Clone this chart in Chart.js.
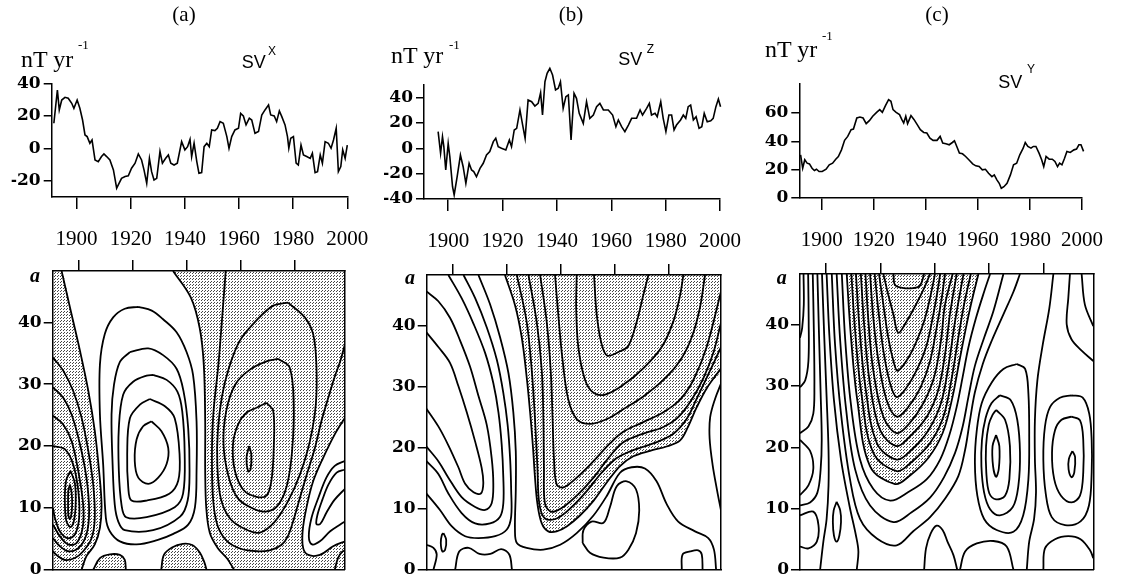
<!DOCTYPE html>
<html><head><meta charset="utf-8">
<script src="https://cdn.jsdelivr.net/npm/chart.js@4.4.1/dist/chart.umd.min.js"></script>
<style>
html,body{margin:0;padding:0;background:#fff;}
#stage{position:relative;width:1121px;height:582px;overflow:hidden;background:#fff;}
#stage canvas{position:absolute;left:0;top:0;}
.t{position:absolute;white-space:nowrap;line-height:1;color:#000;z-index:5;}
.serif{font-family:'Liberation Serif','Times New Roman',serif;}
.sans{font-family:'Liberation Sans',Arial,sans-serif;}
</style></head><body>
<div id="stage">
 <div class="t serif" style="left:134px;top:4px;width:100px;text-align:center;font-size:21px">(a)</div>
 <div class="t serif" style="left:521px;top:4px;width:100px;text-align:center;font-size:21px">(b)</div>
 <div class="t serif" style="left:887px;top:4px;width:100px;text-align:center;font-size:21px">(c)</div>
 <div class="t serif" style="left:21px;top:46.6px;font-size:24px">nT yr</div>
 <div class="t serif" style="left:78px;top:37.7px;font-size:13px">-1</div>
 <div class="t serif" style="left:391px;top:43.2px;font-size:24px">nT yr</div>
 <div class="t serif" style="left:449px;top:37.7px;font-size:13px">-1</div>
 <div class="t serif" style="left:765px;top:36.6px;font-size:24px">nT yr</div>
 <div class="t serif" style="left:822px;top:29.4px;font-size:13px">-1</div>
 <div class="t sans" style="left:241.7px;top:53.4px;font-size:18px">SV</div>
 <div class="t sans" style="left:268px;top:45px;font-size:12px">X</div>
 <div class="t sans" style="left:618.3px;top:50px;font-size:18px">SV</div>
 <div class="t sans" style="left:646.7px;top:43.3px;font-size:12px">Z</div>
 <div class="t sans" style="left:998.3px;top:73.4px;font-size:18px">SV</div>
 <div class="t sans" style="left:1027px;top:63px;font-size:12px">Y</div>
 <div class="t serif" style="left:30px;top:265px;font-size:20px;font-weight:bold;font-style:italic">a</div>
 <div class="t serif" style="left:405px;top:267px;font-size:20px;font-weight:bold;font-style:italic">a</div>
 <div class="t serif" style="left:776.7px;top:267px;font-size:20px;font-weight:bold;font-style:italic">a</div>
</div>
<script>
// ---------- tick labels ----------
const yearTicks = [1900,1920,1940,1960,1980,2000];
const periodTicks = [0,10,20,30,40];
const svxTicks = [-20,0,20,40];
const svzTicks = [-40,-20,0,20,40];
const svyTicks = [0,20,40,60];

// ---------- secular variation series [year, nT/yr] ----------
const svX = [[1891.6,15.4],[1892.9,35.9],[1893.6,23.6],[1894.5,29.7],[1895.7,31.4],[1896.9,30.8],[1898.2,27.7],[1899,24.6],[1900.2,29.7],[1901.2,24.6],[1902.2,17.4],[1903.1,8.2],[1903.9,7.2],[1904.9,3.1],[1905.7,5.1],[1906.8,-7.2],[1908,-8.2],[1909.2,-5.1],[1910.1,-3.5],[1911.1,-5.1],[1912.3,-7.2],[1913.6,-13.3],[1914.8,-24.6],[1915.4,-22.6],[1916.6,-18.5],[1917.9,-17.4],[1919.1,-17],[1920.3,-12.3],[1921.6,-9.2],[1922.8,-3.5],[1924,-7.2],[1924.9,-13.3],[1925.9,-21.5],[1926.9,-6.2],[1927.7,-14.4],[1928.6,-19.5],[1929.6,-18.5],[1930.8,-2],[1931.7,-9.2],[1932.9,-6.2],[1933.9,-4.1],[1934.8,-9.2],[1936,-10.3],[1937.2,-9.2],[1938.8,4.1],[1940,-1],[1941,1],[1941.9,5.5],[1942.5,-5.1],[1943.4,3.1],[1944.4,-8.2],[1945.2,-15.4],[1946.2,-15],[1947.1,1],[1948.1,3.1],[1949,1],[1949.9,11.3],[1951.1,10.9],[1952,12.3],[1953,16.4],[1954.2,15.4],[1955.5,7.2],[1956.3,0],[1957.3,7.2],[1958.5,11.3],[1959.8,12.3],[1960.6,21.5],[1961.6,19.9],[1962.6,14.4],[1963.8,18.5],[1964.7,17.4],[1965.9,9.2],[1967.2,10.3],[1968.4,20.5],[1969.6,23.6],[1970.9,26.7],[1971.7,20.5],[1973,19.9],[1973.9,16.4],[1974.9,23],[1975.8,19.5],[1977,14.4],[1977.9,7.2],[1978.4,0],[1979.1,6.2],[1980.1,7.2],[1981.1,-9.2],[1981.9,-10.3],[1982.9,2],[1983.8,-4.1],[1985,-5.1],[1986.3,-6.2],[1987.1,-3.1],[1988.1,-15],[1989,-14.4],[1990,-4.1],[1990.8,-9.2],[1991.8,4.1],[1993,3.1],[1994,0],[1994.9,5.1],[1995.9,12.3],[1996.7,-14.4],[1997.6,-11.3],[1998.3,-1],[1999.2,-6.2],[2000,2]];
const svZ = [[1896.3,13.2],[1897.2,-3.9],[1897.9,9.2],[1898.4,1.3],[1899.1,-17.1],[1900,3.9],[1900.6,-6.6],[1901.6,-30.3],[1902.2,-36.8],[1903.3,-22.4],[1904.5,-5.3],[1905.5,-14.5],[1906.5,-27.6],[1907.7,-11.8],[1908.6,-17.1],[1909.4,-18.4],[1910.4,-22.4],[1911.7,-15.8],[1912.9,-11.8],[1914.1,-5.3],[1915.3,-2.6],[1916.6,5.3],[1917.5,7.9],[1918.4,1.3],[1919.6,0],[1921.2,-1.3],[1922.5,6.6],[1923.3,1.3],[1924.3,14.5],[1925.2,15.8],[1926.4,30.3],[1927.4,18.4],[1928.3,7.9],[1929.4,38.2],[1930.7,36.8],[1931.9,33.4],[1933.1,35.5],[1934,43.9],[1934.7,26.3],[1935.6,52.6],[1936.4,59.2],[1937.4,63.2],[1938.4,57.9],[1939.5,46.1],[1940.5,47.4],[1941.3,52.6],[1942.3,31.6],[1943.3,40.8],[1944.2,42.1],[1945.2,6.6],[1946.3,43.4],[1947.2,39.5],[1948.2,27.6],[1949.7,19.7],[1950.9,36.8],[1952.1,23.7],[1953.4,26.3],[1954.6,32.9],[1955.8,35.5],[1957.1,30.3],[1958.9,30.3],[1960.5,26.3],[1961.7,17.1],[1962.6,22.4],[1963.8,17.1],[1965,13.2],[1966.3,18.4],[1967.5,23.7],[1969.3,23.7],[1970.6,30.3],[1971.5,26.3],[1973,31.6],[1974,35.5],[1974.8,26.3],[1976.1,27.6],[1976.9,25],[1978.2,36.8],[1979.1,23.7],[1980.1,13.2],[1981.2,26.3],[1982.2,26.3],[1983.1,14.5],[1984,18.4],[1985.5,22.4],[1986.5,26.3],[1987.4,23.7],[1988.3,32.9],[1989.2,34.2],[1990.2,22.4],[1991.2,25],[1992.3,15.8],[1993.3,17.1],[1994.2,27.6],[1995.3,21],[1996.6,21.8],[1997.5,23.7],[1998.5,32.9],[1999.4,38.9],[2000.2,32.9]];
const svY = [[1891.9,30.5],[1892.7,21],[1893.5,27],[1894.4,24.6],[1895.3,24.1],[1896.3,21],[1897.2,19.4],[1898,20.3],[1899,18.7],[1900.2,18.7],[1901.7,20.3],[1902.9,23.4],[1904.2,24.6],[1905.4,27.4],[1906.4,29.3],[1907.6,34],[1908.8,40.7],[1910,43.5],[1911.3,48.2],[1912.2,48.7],[1913.5,56.5],[1914.7,57.2],[1915.9,56.5],[1917.1,52.5],[1918.4,54.8],[1919.6,57.7],[1921.1,60.5],[1922.3,62.4],[1923.3,60.5],[1924.5,65.2],[1925.7,69.5],[1926.6,68.3],[1927.4,62.4],[1928.6,60.5],[1929.9,58.9],[1930.8,55.3],[1931.5,53],[1932.3,57.7],[1933,52.5],[1934.3,58.2],[1935.5,55.3],[1936.7,51.8],[1937.9,48.2],[1939.2,46.3],[1940.4,45.9],[1941.6,42.3],[1942.8,40.7],[1944.3,40.7],[1945.5,43.5],[1946.5,38.8],[1947.7,38.3],[1949,37.6],[1950.2,39.2],[1951,40.4],[1951.9,36.4],[1952.9,31.7],[1954.1,31.2],[1955.3,29.3],[1956.8,26.5],[1958,24.1],[1959.2,22.7],[1960.5,22.2],[1961.7,19.9],[1962.9,20.3],[1964.1,17.5],[1965.4,15.1],[1966.3,16.3],[1967.3,12.8],[1968.2,10.4],[1969,6.9],[1970,8],[1971.2,10.4],[1972.5,16.3],[1973.7,23.4],[1974.9,24.6],[1976.1,30.5],[1977.4,35.2],[1978.2,39.2],[1979.2,36.4],[1980.4,35.2],[1981.3,36.4],[1982.3,36.4],[1983.5,31.7],[1984.5,27],[1985.3,22.2],[1986.2,29.3],[1987.4,27.4],[1988.6,27.4],[1989.6,25.8],[1990.6,22.2],[1991.4,24.6],[1992.3,23.4],[1993.3,28.1],[1994.2,32.9],[1995.5,32.2],[1996.9,34],[1997.9,34.5],[1998.8,37.6],[1999.6,37.6],[2000.6,32.9]];

// ---------- wavelet contours, panel (a) SV^X : [year, period a] ----------
const aZeroL = [[1893.6,48.3],[1896.7,42.4],[1900.4,35.4],[1903.5,28.9],[1905.9,22.4],[1907.5,15.9],[1908.4,10.5],[1907.8,6.8],[1905.9,4.1],[1902.8,2.2],[1901,0]];
const aLU1 = [[1890.4,34.3],[1894.2,32.2],[1897.9,28.9],[1901,24.6],[1903.5,19.2],[1905.3,13.8],[1905.9,8.4],[1904.7,5.1],[1901.6,3],[1898.5,1.9],[1894.8,1.6],[1891.7,2.4],[1890.4,3]];
const aLU2 = [[1890.4,29.5],[1894.2,27.8],[1897.3,25.1],[1900.4,20.3],[1902.8,14.9],[1903.8,9.5],[1902.8,5.7],[1899.8,3.5],[1896,3],[1893,3.8],[1890.4,5.1]];
const aLU3 = [[1890.4,24.9],[1894.2,23.5],[1897.3,20.8],[1899.8,15.9],[1901.6,10.5],[1901.4,6.8],[1899.1,4.3],[1896,4.1],[1893,5.4],[1890.4,7.3]];
const aLU4 = [[1890.4,20],[1894.8,19.5],[1897.9,17],[1899.8,12.7],[1900.1,8.4],[1898.5,5.7],[1896,5.1],[1893,6.2],[1891.1,8.4],[1890.4,10]];
const aLc1 = [[1896.9,16],[1898.5,14],[1898.8,10.5],[1898,7.6],[1896.8,6.9],[1895.3,8],[1894.8,11.5],[1895.3,14.5],[1896.9,16]];
const aLc2 = [[1896.7,13.8],[1897.3,12.5],[1897.5,10.5],[1897.1,8.6],[1896.6,8.2],[1896.1,8.8],[1896,11],[1896.1,12.8],[1896.7,13.8]];
const aW1 = [[1926.9,24],[1930.6,22.4],[1933.1,19.7],[1932.5,17.1],[1929.4,14.9],[1925.7,13.9],[1922,14.9],[1920.7,17.6],[1921.4,21.1],[1923.8,23.2],[1926.9,24]];
const aW2 = [[1926.3,27.6],[1932,26.4],[1935.5,24.5],[1937.3,18.7],[1936.8,14.4],[1933.5,12.3],[1925.1,11.2],[1919.5,11.2],[1918.3,13.3],[1917.9,18.7],[1918.9,24.5],[1922.6,26.7],[1926.3,27.6]];
const aW3 = [[1927.5,31.5],[1932.5,30.7],[1936.5,28.8],[1938.3,25.6],[1939.2,18.7],[1938.6,12.3],[1935.5,10.1],[1925.1,8.5],[1917.5,8.5],[1915.8,10.5],[1914.8,16],[1914.8,22.9],[1916.4,28.3],[1920.1,30.4],[1925.1,31.4],[1927.5,31.5]];
const aW4 = [[1918.9,35.2],[1925.7,35.8],[1931.2,34.7],[1936.2,32.5],[1938.8,28.8],[1940.5,22.9],[1941,16],[1940.3,11.2],[1937.5,8.6],[1927.5,6.4],[1917,6.4],[1914.6,7.8],[1913.3,10.5],[1912.5,17],[1912.1,25.1],[1913,29.9],[1915.2,33.6],[1918.9,35.2]];
const aW5 = [[1922,42.5],[1927,41.9],[1931.2,40.5],[1936.2,38.4],[1939.9,35.2],[1942.3,31.5],[1943.6,24],[1943.6,16],[1943,10.1],[1940.5,7.3],[1935,5.8],[1929,4.8],[1921.4,4.1],[1915.2,4.6],[1911.5,6.2],[1910,8.4],[1909,17],[1907.8,25.1],[1907.8,33.2],[1909.6,38.1],[1912.7,40.8],[1917,42.2],[1922,42.5]];
const aB1 = [[1905.3,0],[1907.8,1.9],[1911.5,2.5],[1915.2,2.4],[1917,1.6],[1917.4,0]];
const aB2 = [[1930.5,0],[1931.5,2.4],[1934.5,3.6],[1938.5,4.2],[1942,4],[1944.8,2.8],[1946.5,1.2],[1947.3,0]];
const aZeroR = [[1934.9,48.3],[1941.5,44],[1944.8,39],[1946.3,33],[1946.8,24],[1946.8,16],[1947.2,10],[1948.5,6],[1951.5,3.5],[1955,1.8],[1957.5,0]];
const aR5 = [[1954.4,48.3],[1953.2,41.4],[1951.7,33.2],[1949.8,25.1],[1949.3,18],[1949.8,11],[1951.5,7],[1955,4.6],[1960,3.4],[1966,3],[1971,3.2],[1975,4],[1977.5,5.5],[1979.5,8],[1981.8,11.5],[1984.5,15.5],[1987.4,19.6],[1989.9,24.1],[1992.4,27.8],[1994.7,31.1],[1996.9,33.8],[1998.6,36.5]];
const aR4 = [[1977.5,43.2],[1983.7,40.8],[1986.8,38.1],[1988,33.2],[1987.8,26.8],[1985.6,20.8],[1981.9,15.4],[1977.5,11.1],[1972.6,7.8],[1967,6],[1961.5,6.6],[1956,8.3],[1952.6,11.5],[1951.3,17],[1951.5,22.5],[1953,28],[1955.5,32.5],[1959.6,37],[1965.8,40.3],[1972,42.7],[1977.5,43.2]];
const aR3 = [[1973.8,34.1],[1978.1,32.7],[1979.6,26.8],[1979,19.2],[1977,13.5],[1973.5,10.3],[1969,9.4],[1964.5,9.9],[1959,11.5],[1955.5,15],[1953.6,20.3],[1954.6,25.7],[1958,30],[1963.5,32.4],[1969.5,33.7],[1973.8,34.1]];
const aR2 = [[1969.5,27],[1972,25.7],[1972.2,19.7],[1971.3,14.3],[1969.5,12],[1965.8,11.8],[1961,12.9],[1957.8,16],[1957.1,20.3],[1959,23.5],[1962.1,25.4],[1965.8,26.2],[1969.5,27]];
const aR1 = [[1963.1,20],[1963.9,18.6],[1963.6,16.2],[1962.7,15.9],[1962.1,18.1],[1963.1,20]];
const aZeroBR = [[1998.6,24.6],[1994.8,21.9],[1990.5,18.1],[1986.8,14.3],[1984.3,10],[1982.9,6.2],[1983.1,3.5],[1985,2.4],[1989.3,2.4],[1994.2,3.8],[1998.6,4.6]];
const aBR2 = [[1998.6,17.6],[1994.8,16.8],[1991.7,14.9],[1988.7,11.6],[1986.2,8.4],[1985.2,5.4],[1986.4,4.1],[1989.3,4.6],[1993,6.2],[1996.7,7.3],[1998.6,7.8]];
const aBR3 = [[1998.6,16.2],[1995.5,15.7],[1992.5,13.8],[1990.2,11.3],[1988.4,8.9],[1988,7.4],[1989.4,7.4],[1991.8,9.3],[1994.7,11.3],[1998.6,13.1]];
const aCorner = [[1994.8,0],[1996,1.9],[1997.5,2.9],[1998.6,3.1]];

// ---------- panel (b) SV^Z ----------
const bH1 = [[1890.4,38.9],[1894.8,36.5],[1899.1,33.9],[1902.2,30.1],[1905.3,25.8],[1908.4,21],[1910.8,16.7],[1911.4,14.1],[1910.5,12.5],[1907.8,12.7],[1904.7,14.1],[1902.2,16.8],[1898.5,20.4],[1894.8,23.5],[1890.4,26.4]];
const bH2 = [[1890.4,45.6],[1894.8,44],[1899.1,41.3],[1902.8,37.6],[1906.5,33.3],[1909.6,28.5],[1912.7,23.7],[1914.5,18.3],[1915.1,14.1],[1914.5,10.9],[1912.1,9.8],[1908.4,10.3],[1903.4,11.9],[1898.5,15.1],[1894.8,17.8],[1890.4,20.2]];
const bH3 = [[1898.5,48.3],[1903.4,44.5],[1907.8,40.3],[1912.1,35.5],[1915.1,30.6],[1917,25.8],[1918.2,20.5],[1918.8,15.1],[1918.8,10.9],[1917.6,8.7],[1913.9,7.6],[1908.4,7.6],[1903.4,9.3],[1898.5,12.5],[1894.8,15.7],[1890.4,17.8]];
const bH4 = [[1904.1,48.3],[1908.4,44.5],[1912.7,39.7],[1916.4,34.4],[1918.8,29],[1920.4,23.7],[1921.3,18.3],[1921.7,13],[1921.7,8.7],[1920.1,6.6],[1915.8,5.5],[1909.6,5.2],[1904.7,5.5],[1899.8,7.1],[1895.4,9.8],[1890.4,12.5]];
const bH5 = [[1909.6,48.3],[1913.9,43.5],[1917.6,38.1],[1920.7,32.2],[1922.5,25.8],[1923.4,19.4],[1923.4,13],[1923.1,6.6],[1923.8,4.4],[1927.4,3.6],[1933.6,3.3],[1939.8,4.1],[1945.9,6],[1952.1,8.9],[1957,12.1],[1961.9,15.9],[1966.2,16.8],[1971.1,16.6],[1975.4,14.5],[1979.1,10.8],[1983.4,7.9],[1989.6,6.3],[1994.5,5.2],[1996.6,3.3],[1997.4,0]];
const bZero = [[1919.4,48.3],[1923.1,43.4],[1925.6,38.1],[1927.4,31.7],[1928.7,25.8],[1929.7,20.4],[1930.5,15.1],[1931.4,10.8],[1933,7.6],[1935.4,6.3],[1938.5,6.3],[1942.2,7.1],[1947.1,8.9],[1952.1,11.3],[1957,14.3],[1961.9,17],[1966.8,18.6],[1973,19.5],[1979.1,20.2],[1984.1,21.2],[1987.1,23.5],[1990.2,26.6],[1994,29.8],[1999.2,33]];
const bS6 = [[1923.8,48.3],[1927.4,40.7],[1929.3,32.7],[1930.5,24.7],[1931.4,16.7],[1932.1,10.8],[1934.2,8.4],[1938.5,8.4],[1944.1,10.3],[1949.6,12.9],[1955.1,15.9],[1960.7,18.3],[1966.8,19.6],[1974.2,20.7],[1981.6,22.3],[1986.5,24.7],[1990.2,28],[1994.5,32],[1999.2,36.5]];
const bS5 = [[1928.1,48.3],[1931.1,40.7],[1933,32.7],[1933.6,24.7],[1933.8,16.7],[1934.2,10.8],[1936.7,9.5],[1941,10.3],[1946.5,12.4],[1952.1,15.1],[1957.6,18.3],[1963.1,20.9],[1970.5,22.3],[1977.9,23.4],[1983.4,25],[1988.4,27.9],[1992.7,31.4],[1996.4,35.6],[1999.2,40.5]];
const bS4 = [[1932.4,48.3],[1934.8,40.7],[1936.3,32.7],[1937,24.7],[1937.5,18.3],[1938.5,14],[1941,13.5],[1945.9,15.1],[1952.1,17.8],[1958.2,20.7],[1963.1,22.6],[1970.5,24.2],[1977.9,25.8],[1984.1,27.9],[1989,31.1],[1993.9,36.5],[1999.2,45.6]];
const bS3 = [[1937.9,48.3],[1939.1,41.8],[1940.7,34.3],[1942.8,27.9],[1945.9,24.7],[1950.8,23.9],[1957,24.7],[1963.1,26.3],[1970.5,28.4],[1977.9,31.1],[1984.1,34.3],[1988.4,38.1],[1991.4,42.9],[1993.3,48.3]];
const bS2 = [[1945.9,48.3],[1945.7,42.9],[1946.5,36.5],[1949,31.1],[1952.1,29],[1956.4,28.7],[1963.1,30.3],[1970.5,33],[1977.3,36.5],[1981.6,40.7],[1984.1,45],[1985.3,48.3]];
const bS1 = [[1952.3,48.3],[1953.3,41.8],[1955.1,37],[1957.2,35.1],[1961.9,35.8],[1965,36.7],[1968.1,40.7],[1970.5,45],[1972.4,48.3]];
const bW2 = [[1948.1,4.4],[1948.4,6.5],[1951.4,7.9],[1955.8,7.7],[1958.2,10.3],[1960.7,13.7],[1964.4,14.5],[1967.8,13.2],[1969,9.7],[1967.8,6],[1965,3.3],[1961.9,2],[1955.8,2],[1950.8,2.8],[1948.1,4.4]];
const bW3 = [[1984.7,0],[1985,2.5],[1987.8,3],[1990.8,3.2],[1992.1,2.5],[1992.4,0]];
const bW4 = [[1999.2,30.5],[1997,28],[1995.2,25],[1995,21.5],[1996.1,17.2],[1997.8,12.9],[1999.2,9.7]];
const bW5 = [[1890.4,4.1],[1893,3.6],[1894.2,2.5],[1893,0]];
const bW6 = [[1896.7,6],[1897.7,4.9],[1897.3,3.3],[1896.3,3],[1895.7,4.4],[1896.1,5.7],[1896.7,6]];
const bW7 = [[1901,0],[1902.5,3],[1906,3.6],[1910,2.6],[1914,2.6],[1918,3.4],[1921,2.5],[1922,0]];

// ---------- panel (c) SV^Y ----------
const cCap = [[1924.8,48.3],[1925.4,46.5],[1928.5,46],[1932.1,46],[1934.6,46.4],[1936.1,48.3]];
const cV1 = [[1921.1,48.3],[1922.9,44.9],[1924.8,41.7],[1926.6,38.7],[1929.7,40.6],[1933.1,43.3],[1936.1,46],[1938.3,48.3]];
const cV2 = [[1919.5,48.3],[1921.1,43.3],[1922.9,37.9],[1924.8,34.1],[1926.3,32.5],[1929.7,34.2],[1933.1,37.1],[1936.1,40.6],[1938.3,44.4],[1940.1,48.3]];
const cV3 = [[1917.9,48.3],[1919.3,42.2],[1921.1,35.8],[1923.6,30.4],[1926,28.2],[1929.7,29.8],[1933.6,32.8],[1937.1,36.8],[1939.5,41.7],[1941,45.4],[1942,48.3]];
const cV4 = [[1916.2,48.3],[1917.4,41.1],[1919.3,34.1],[1922.3,27.7],[1926,25],[1930.3,26.6],[1934.8,29.8],[1938.3,34.1],[1940.7,39.5],[1942.6,44.4],[1943.8,48.3]];
const cV5 = [[1914.5,48.3],[1915.6,40.6],[1917.4,32.5],[1921.1,25],[1926,22.3],[1930.7,23.9],[1935.8,27.2],[1939.8,31.5],[1942.3,37.4],[1943.8,43.3],[1946.6,48.3]];
const cV6 = [[1912.8,48.3],[1914,40.1],[1916,30.9],[1919.9,22.8],[1926,20.2],[1930.9,21.8],[1937.1,25],[1941.3,29.3],[1943.8,35.2],[1945.6,41.7],[1948.1,48.3]];
const cV7 = [[1911,48.3],[1912.3,39.5],[1914.5,29.8],[1918.7,20.7],[1926,18],[1931.5,19.6],[1937.7,22.8],[1942.3,27.2],[1945,33.1],[1947.5,40.6],[1950.6,48.3]];
const cV8 = [[1909.3,48.3],[1910.7,39],[1913,28.8],[1917.4,19.1],[1926,16.1],[1931.5,17.6],[1938.3,20.7],[1943.2,25],[1946.1,30.9],[1948.7,37.9],[1950.8,43.3],[1953.3,48.3]];
const cV9 = [[1907.6,48.3],[1909.1,38.4],[1911.5,27.7],[1916.2,16.9],[1925.4,14],[1930.9,15.4],[1937.7,18.3],[1942.9,22.3],[1946.3,27.7],[1949.1,34.1],[1951.5,39.5],[1953.6,43.8],[1956.1,48.3]];
const cV10 = [[1905.8,48.3],[1907,37.9],[1909.1,27.2],[1912.5,18],[1917.4,13.2],[1923.6,11.3],[1930.3,12.7],[1937.1,14.8],[1942,18],[1945.4,22],[1948.1,26.6],[1950.3,31.5],[1952.4,36.3],[1955.2,41.1],[1958.2,45.4],[1960.4,48.3]];
const cV11 = [[1903.9,48.3],[1905.2,37.4],[1907.4,26.1],[1910.7,16.4],[1916.2,10.5],[1924.8,7.8],[1931.5,9.4],[1938.3,11.8],[1943.4,15.1],[1947.5,19.1],[1950.3,23.4],[1952.4,28.2],[1954.8,33.3],[1958.2,37.9],[1961.6,42.2],[1965.3,48.3]];
const cV12 = [[1902.1,48.3],[1903.3,36.8],[1905.5,25.5],[1908.8,14.8],[1912.5,8.3],[1918.7,5.1],[1926,4],[1932.1,6.3],[1938.3,8.6],[1943.8,11.6],[1948.7,15.3],[1951.2,19.6],[1952.8,23.9],[1954.8,29],[1957.7,33.6],[1961,37.4],[1965.3,41.7],[1969,45.4],[1971.4,48.3]];
const cO13 = [[1900.2,48.3],[1901.2,38.4],[1902.9,27.7],[1905.5,18],[1908.6,10.5],[1911,5.6],[1911.9,3],[1911.3,0]];
const cO14 = [[1898.5,48.3],[1899.3,38.4],[1900.2,28.2],[1900.9,19.6],[1900.9,13.7],[1900.2,8.3],[1899,4.6],[1897.8,0]];
const cO15 = [[1896.8,48.3],[1897.4,38.4],[1898,28.8],[1898.4,21.2],[1898,16.4],[1896.8,12.6],[1894.1,11],[1890.4,10.5]];
const cO16 = [[1895.1,48.3],[1895.5,39],[1895.7,29.8],[1895.3,25.5],[1893.5,23.4],[1890.4,22.3]];
const cO17 = [[1893.4,48.3],[1893.6,40.6],[1893.5,34.1],[1892.3,30.9],[1890.4,29.8]];
const cO18 = [[1891.7,48.3],[1891.8,43.3],[1891.2,39.5],[1890.4,37.9]];
const cEll = [[1903.9,11.1],[1905.2,9.7],[1905.5,7.8],[1904.9,5.6],[1903.9,4.6],[1902.9,5.6],[1902.5,7.8],[1902.8,9.7],[1903.9,11.1]];
const cBump1 = [[1890.4,21.2],[1894.1,19.4],[1895.3,16.5],[1893.5,13.8],[1890.4,12.2]];
const cBump2 = [[1890.4,8.9],[1895.3,9.5],[1897.2,7.3],[1896.6,4.6],[1893.5,3.5],[1890.4,3.8]];
const cHump = [[1936.1,0],[1936.8,3.5],[1938.5,5.9],[1940.7,7.2],[1942.9,6.5],[1944.7,4.6],[1946.9,2.4],[1948.3,0]];
const cC1 = [[1962.6,22],[1963.8,20.2],[1963.6,16.5],[1962.6,15.2],[1961.5,16.9],[1961.3,20.2],[1962.6,22]];
const cC2 = [[1962.6,26.1],[1965.9,24.5],[1967.7,20.2],[1967.5,14.8],[1965.9,12.1],[1962.6,11.5],[1960.1,12.5],[1959,15.9],[1958.9,20.2],[1959.9,23.7],[1961.3,25.3],[1962.6,26.1]];
const cC3 = [[1964,28.5],[1968,27.7],[1970.4,24.5],[1971.4,19.1],[1970.8,13.7],[1968.7,10.2],[1964,8.9],[1960.4,9.9],[1958.2,12.6],[1957.2,16.9],[1957.4,21.2],[1958.7,24.7],[1960.9,27.2],[1964,28.5]];
const cC4 = [[1970.2,33.6],[1973.3,32.8],[1974.5,28.8],[1974.8,21.8],[1974.5,14.8],[1972.6,8.9],[1969,6.2],[1962.8,6.5],[1958.2,8.3],[1955.7,12.1],[1954.8,17.5],[1955.5,22.8],[1957.3,27.2],[1961,30.6],[1965.3,32.8],[1970.2,33.6]];
const cD1 = [[1990.7,19.4],[1991.7,18.4],[1991.4,15.9],[1990.4,15.1],[1989.3,16.4],[1989.4,18.1],[1990.7,19.4]];
const cD2 = [[1990.4,25],[1993.5,24.4],[1994.7,21.2],[1994.7,15.9],[1993.5,12.1],[1990.4,11],[1986.5,12.1],[1984,14.8],[1983.2,19.1],[1984.3,22.8],[1986.7,24.5],[1990.4,25]];
const cD3 = [[1990.4,28.5],[1994.5,28.1],[1996.9,25.5],[1997.8,21.2],[1997.8,15.9],[1996.8,10.5],[1993.7,7.9],[1988,7.3],[1983.1,8.6],[1980.9,12.4],[1980,18],[1980.6,23.4],[1982.5,26.6],[1986.1,28.1],[1990.4,28.5]];
const cE1 = [[1983.7,48.3],[1982.2,42.7],[1979.8,36.8],[1977.8,30.9],[1976.9,24.5],[1976.9,18],[1977.3,12.6],[1976.6,8.3],[1974.8,4.6],[1973.9,0]];
const cE2 = [[1980,0],[1980.6,3.5],[1984.3,5],[1989.2,5.5],[1993.7,5],[1997.2,3.2],[1998.4,1.9]];
const cE3 = [[1949.3,0],[1951.2,3],[1955.5,4.3],[1961.6,4.7],[1966.5,3.8],[1969,0]];
const cE4 = [[1989.8,48.3],[1989.2,44.4],[1988.6,40.1],[1990.4,37.6],[1994.1,35.8],[1998.4,34.1]];
const cE5 = [[1994.1,48.3],[1995.3,43.3],[1998.4,39.8]];

// ---------- shaded (stippled) regions, built from the contours ----------
const aShadeL = [[1890.3,48.3]].concat(aZeroL, [[1890.3,0]]);
const aShadeR = [[1998.6,48.3]].concat(aZeroBR, [[1998.6,0],[1998.6,0]], aZeroR.slice().reverse());
const bShade = bZero.concat([[1999.2,48.3]]);
const cShade = cV9;

// ---------- drawing ----------
const INK = '#000';
const stage = document.getElementById('stage');
function addCanvas(){
  const c = document.createElement('canvas');
  c.width = 1121; c.height = 582;
  c.style.width = '1121px'; c.style.height = '582px';
  stage.appendChild(c);
  return c;
}
function setTicks(vals){
  return s => { s.ticks = vals.filter(v => v >= s.min - 1e-6 && v <= s.max + 1e-6).map(v => ({value: v})); };
}
const tile = document.createElement('canvas'); tile.width = 3; tile.height = 3;
const tctx = tile.getContext('2d');
tctx.fillStyle = '#474747'; tctx.fillRect(0,0,1,1); tctx.fillRect(1,2,1,1);
const stipple = tctx.createPattern(tile, 'repeat');

const baseOpts = {responsive:false, animation:false, events:[], devicePixelRatio:1,
  plugins:{legend:{display:false}, tooltip:{enabled:false}}};

function topPanel(area, xMin, yMin, yMax, series, yTicks){
  new Chart(addCanvas(), {
    type:'line',
    data:{datasets:[{data:series, borderColor:INK, borderWidth:1.6, pointRadius:0, tension:0, fill:false, clip:false}]},
    options:Object.assign({}, baseOpts, {
      layout:{autoPadding:false, padding:{left:area.l-40, right:1121-area.r, top:area.t, bottom:582-area.b-60}},
      scales:{
        x:{type:'linear', min:xMin, max:2000, afterBuildTicks:setTicks(yearTicks), afterFit:s=>{s.height=60;},
           grid:{drawOnChartArea:false, drawTicks:true, tickLength:12, color:INK, lineWidth:1.5},
           border:{display:true, color:INK, width:1.5},
           ticks:{color:INK, font:{family:"'Liberation Serif', serif", size:21}, padding:18, maxRotation:0, autoSkip:false, callback:v=>String(v)}},
        y:{type:'linear', min:yMin, max:yMax, afterBuildTicks:setTicks(yTicks), afterFit:s=>{s.width=40;},
           grid:{drawOnChartArea:false, drawTicks:true, tickLength:8, color:INK, lineWidth:1.5},
           border:{display:true, color:INK, width:1.5},
           ticks:{color:INK, font:{family:"'DejaVu Serif', serif", size:17, weight:'bold'}, padding:3, autoSkip:false, callback:v=>String(v)}}
      }
    })
  });
}

function contourPanel(area, xMin, xMax, lines, shades){
  const ds = [];
  shades.forEach(p => ds.push({data:p, borderColor:'rgba(0,0,0,0)', borderWidth:1, backgroundColor:stipple, fill:'shape', pointRadius:0, tension:0.35, order:5}));
  lines.forEach(l => ds.push({data:l, borderColor:INK, borderWidth:1.8, pointRadius:0, tension:0.35, fill:false, order:1}));
  new Chart(addCanvas(), {
    type:'line',
    data:{datasets:ds},
    options:Object.assign({}, baseOpts, {
      layout:{autoPadding:false, padding:{left:area.l-45, right:1121-area.r, top:area.t-12, bottom:582-area.b}},
      scales:{
        x:{type:'linear', position:'top', min:xMin, max:xMax, afterBuildTicks:setTicks(yearTicks), afterFit:s=>{s.height=12;},
           grid:{drawOnChartArea:false, drawTicks:true, tickLength:11, color:INK, lineWidth:1.5},
           border:{display:true, color:INK, width:1.5, z:3}, ticks:{display:false}},
        y:{type:'linear', min:0, max:48.3, afterBuildTicks:setTicks(periodTicks), afterFit:s=>{s.width=45;},
           grid:{drawOnChartArea:false, drawTicks:true, tickLength:9, color:INK, lineWidth:1.5},
           border:{display:true, color:INK, width:1.5, z:3},
           ticks:{color:INK, font:{family:"'DejaVu Serif', serif", size:17, weight:'bold'}, padding:2, autoSkip:false, callback:v=>String(v)}},
        x2:{type:'linear', position:'bottom', min:0, max:1, afterFit:s=>{s.height=0;}, grid:{display:false}, ticks:{display:false}, border:{display:true, color:INK, width:1.5, z:3}},
        y2:{type:'linear', position:'right', min:0, max:1, afterFit:s=>{s.width=0;}, grid:{display:false}, ticks:{display:false}, border:{display:true, color:INK, width:1.5, z:3}}
      }
    })
  });
}

topPanel({l:51.7, r:347.3, t:83.3, b:197}, 1890.8, -30, 40, svX, svxTicks);
topPanel({l:424, r:720, t:85, b:199}, 1891.1, -40, 50, svZ, svzTicks);
topPanel({l:799.3, r:1095, t:83.3, b:198}, 1891.4, 0, 81, svY, svyTicks);

contourPanel({l:52.7, r:345, t:271, b:570}, 1890.3, 1998.6,
  [aZeroL,aLU1,aLU2,aLU3,aLU4,aLc1,aLc2,aW1,aW2,aW3,aW4,aW5,aB1,aB2,aZeroR,aR5,aR4,aR3,aR2,aR1,aZeroBR,aBR2,aBR3,aCorner],
  [aShadeL,aShadeR,aB1,aB2]);
contourPanel({l:426.7, r:721, t:275, b:575.7}, 1890.5, 1999.2,
  [bH1,bH2,bH3,bH4,bH5,bZero,bS6,bS5,bS4,bS3,bS2,bS1,bW2,bW3,bW4,bW5,bW6,bW7],
  [bShade]);
contourPanel({l:800, r:1093.3, t:274, b:573.3}, 1890.4, 1998.4,
  [cCap,cV1,cV2,cV3,cV4,cV5,cV6,cV7,cV8,cV9,cV10,cV11,cV12,cO13,cO14,cO15,cO16,cO17,cO18,cEll,cBump1,cBump2,cHump,cC1,cC2,cC3,cC4,cD1,cD2,cD3,cE1,cE2,cE3,cE4,cE5],
  [cShade]);
</script>
</body></html>
